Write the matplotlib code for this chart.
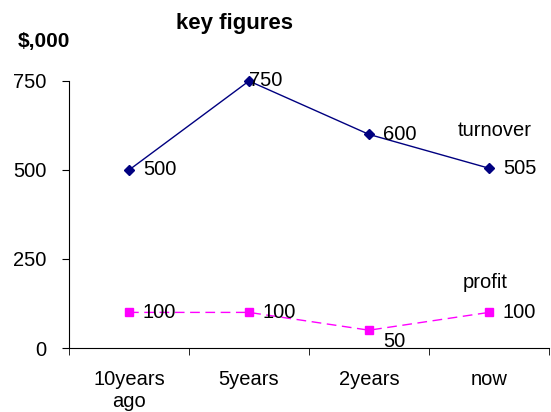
import matplotlib
matplotlib.use('Agg')
import matplotlib.pyplot as plt
import numpy as np

plt.rcParams['font.family'] = ['Liberation Sans', 'DejaVu Sans']

periods = ['10years\nago', '5years', '2years', 'now']
turnover = [500, 750, 600, 505]
profit = [100, 100, 50, 100]
y_ticks = [0, 250, 500, 750]

# horizontal offsets (points) of the turnover value labels
turnover_dx = [10, 0, 10, 10]

fs = 14.5
x = np.arange(len(periods))

fig = plt.figure(figsize=(5.51, 4.12), dpi=100)
ax = fig.add_axes([69/551, 1 - 348/412, 480/551, 267/412])

ax.plot(x, turnover, color='#000080', lw=1, marker='D', ms=5.5, clip_on=False)
ax.plot(x, profit, color='#FF00FF', lw=1, ls=(0, (7, 4)), marker='s', ms=6,
        clip_on=False)

# value labels to the right of each point
for xi, v, dx in zip(x, turnover, turnover_dx):
    ax.annotate(str(v), (xi, v), xytext=(dx, 0), textcoords='offset points',
                va='center', ha='left', fontsize=fs)
for xi, v in zip(x, profit):
    dy = -1 if v < 100 else 0
    ax.annotate(str(v), (xi, v), xytext=(10, dy), textcoords='offset points',
                va='top' if dy else 'center', ha='left', fontsize=fs)

ax.text(3.05, 610, 'turnover', ha='center', va='center', fontsize=fs)
ax.text(2.97, 185, 'profit', ha='center', va='center', fontsize=fs)

ax.set_xlim(-0.5, 3.5)
ax.set_ylim(0, 750)
ax.set_yticks(y_ticks)
ax.set_xticks(x)
ax.set_xticklabels(periods, fontsize=fs)
ax.set_xticks(np.arange(-0.5, 4, 1), minor=True)
ax.tick_params(axis='x', which='major', length=0, pad=16)
ax.tick_params(axis='x', which='minor', length=5, direction='out')
ax.tick_params(axis='y', length=5, direction='out', pad=11, labelsize=fs)

for s in ['top', 'right']:
    ax.spines[s].set_visible(False)

fig.text(235/551, 1 - 23/412, 'key figures', ha='center', va='center',
         fontsize=16, fontweight='bold')
fig.text(18/551, 1 - 41/412, '$,000', ha='left', va='center',
         fontsize=15, fontweight='bold')

fig.savefig('out.png', dpi=100)
